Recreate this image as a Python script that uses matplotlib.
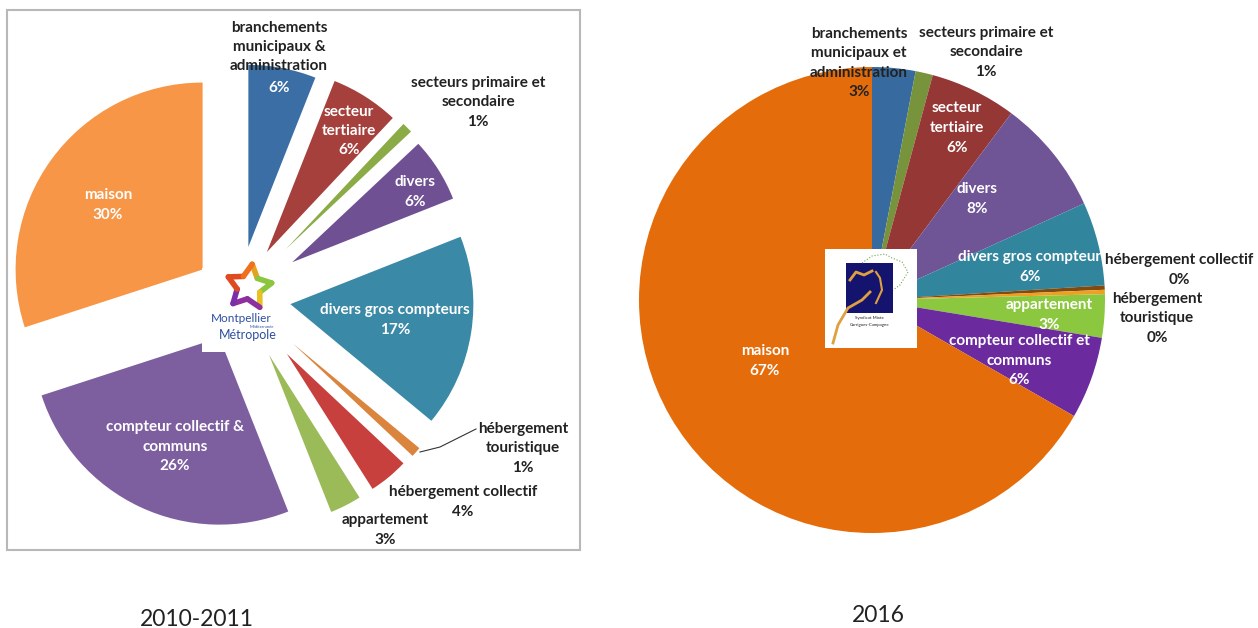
import numpy as np
import matplotlib
matplotlib.use("Agg")
import matplotlib.pyplot as plt
from matplotlib.patches import Rectangle

plt.rcParams['font.family'] = ['Lato', 'DejaVu Sans']

# 2010-2011 (clockwise from the top)
values_2010 = [6, 6, 1, 6, 17, 1, 4, 3, 26, 30]
colors_2010 = ['#3A6EA5', '#A5403D', '#8AAB46', '#6F5193', '#3A89A6',
               '#DB843D', '#C8403D', '#9BBB59', '#7D5FA0', '#F79646']
explode_px_2010 = [50, 52, 66, 63, 52, 72, 75, 66, 46, 45]
radius_2010 = [182, 184, 172, 173, 183, 164, 160, 169, 187, 187]

# 2016
values_2016 = [3.0, 1.2, 6.0, 8.0, 5.8, 0.3, 0.3, 3.0, 5.7, 66.7]
colors_2016 = ['#376A9E', '#77933C', '#953735', '#6F5596', '#31859C',
               '#7F4B10', '#F0A020', '#8CC83F', '#6B2A9E', '#E46C0A']

# text, x, y, colour
labels_2010 = [
    ("branchements\nmunicipaux &\nadministration", 279, 47, '#222222'),
    ("6%", 279, 88, 'white'),
    ("secteur\ntertiaire\n6%", 349, 131, 'white'),
    ("secteurs primaire et\nsecondaire\n1%", 478, 102, '#222222'),
    ("divers\n6%", 415, 192, 'white'),
    ("divers gros compteurs\n17%", 395, 320, 'white'),
    ("hébergement\ntouristique\n1%", 523, 448, '#222222'),
    ("hébergement collectif\n4%", 463, 502, '#222222'),
    ("appartement\n3%", 385, 530, '#222222'),
    ("compteur collectif &\ncommuns\n26%", 175, 447, 'white'),
    ("maison\n30%", 108, 205, 'white'),
]
labels_2016 = [
    ("branchements\nmunicipaux et\nadministration\n3%", 859, 63, '#222222'),
    ("secteurs primaire et\nsecondaire\n1%", 986, 52, '#222222'),
    ("secteur\ntertiaire\n6%", 957, 128, 'white'),
    ("divers\n8%", 977, 199, 'white'),
    ("divers gros compteur\n6%", 1030, 267, 'white'),
    ("hébergement collectif\n0%", 1179, 270, '#222222'),
    ("hébergement\ntouristique\n0%", 1157, 318, '#222222'),
    ("appartement\n3%", 1049, 315, 'white'),
    ("compteur collectif et\ncommuns\n6%", 1019, 361, 'white'),
    ("maison\n67%", 765, 361, 'white'),
]

W, H = 1258, 628
fig = plt.figure(figsize=(W / 100, H / 100), dpi=100)
ax = fig.add_axes([0, 0, 1, 1])


def flip(y):
    return H - y


# frame of the left picture
ax.add_patch(Rectangle((7, flip(550)), 573, 540, fc='white', ec='#B8B8B8', lw=1.5))

# pie's explode is in data units here, so pixels go straight in
wedges, _ = ax.pie(values_2010, colors=colors_2010, startangle=90, counterclock=False,
                   center=(239, flip(296)), radius=185,
                   explode=explode_px_2010, frame=True)
for w, r in zip(wedges, radius_2010):
    w.set_radius(r)

ax.pie(values_2016, colors=colors_2016, startangle=90, counterclock=False,
       center=(872, flip(300)), radius=233, frame=True)

ax.set_xlim(0, W)
ax.set_ylim(0, H)
ax.set_aspect('auto')
ax.axis('off')

# left logo
ax.add_patch(Rectangle((202, flip(352)), 83, 84, fc='white', ec='none', zorder=3))
ang = np.deg2rad(90 - np.arange(0, 360, 36) - 8)
rad = np.where(np.arange(10) % 2 == 0, 23, 12)
sx = 249 + rad * np.cos(ang)
sy = flip(287) + rad * np.sin(ang)
star_cols = ['#E8A020', '#8CC63F', '#8CC63F', '#E8C020', '#8E2FA0',
             '#8E2FA0', '#7A2FA8', '#E04A20', '#E04A20', '#F07020']
for i in range(10):
    j = (i + 1) % 10
    ax.plot([sx[i], sx[j]], [sy[i], sy[j]], color=star_cols[i], lw=4,
            solid_capstyle='round', zorder=4)
ax.text(241, flip(319), "Montpellier", color='#2F4F9F', fontsize=8.5, ha='center', va='center', zorder=4)
ax.text(262, flip(327), "Méditerranée", color='#2F4F9F', fontsize=3, ha='center', va='center', zorder=4)
ax.text(248, flip(335), "Métropole", color='#2F4F9F', fontsize=9, ha='center', va='center', zorder=4)

# leader line
ax.plot([420, 440, 476], [flip(452), flip(447), flip(429)], color='#333333', lw=0.8, zorder=4)

# right logo
ax.add_patch(Rectangle((825, flip(348)), 92, 99, fc='white', ec='none', zorder=3))
ax.add_patch(Rectangle((846, flip(313)), 47, 50, fc='#14146E', ec='none', zorder=4))
ax.plot([833, 838, 848, 862, 870], [flip(343), flip(325), flip(308), flip(300), flip(292)],
        color='#E0A040', lw=2, zorder=5)
ax.plot([850, 856, 864, 872], [flip(280), flip(272), flip(275), flip(271)], color='#E0A040', lw=2, zorder=5)
ax.plot([876, 882, 880, 876], [flip(303), flip(290), flip(278), flip(272)], color='#E0A040', lw=1.5, zorder=5)
ax.plot([862, 872, 885, 892, 902, 908, 900, 893], [flip(263), flip(256), flip(254), flip(258), flip(262), flip(272), flip(285), flip(290)],
        color='#6FA850', lw=0.8, ls=':', zorder=5)
ax.text(869.5, flip(318), "Syndicat Mixte", color='#222222', fontsize=3.2, ha='center', va='center', zorder=5)
ax.text(869.5, flip(325), "Garrigues-Campagne", color='#222222', fontsize=3.2, ha='center', va='center', zorder=5)

for txt, x, y, c in labels_2010 + labels_2016:
    ax.text(x, flip(y), txt, color=c, fontsize=11, fontweight='bold', ha='center', va='center',
            linespacing=1.5, zorder=6)

ax.text(197, flip(620), "2010-2011", color='#222222', fontsize=16.5, ha='center', va='center')
ax.text(878, flip(616), "2016", color='#222222', fontsize=16.5, ha='center', va='center')

fig.savefig("out.png", dpi=100, facecolor='white')
